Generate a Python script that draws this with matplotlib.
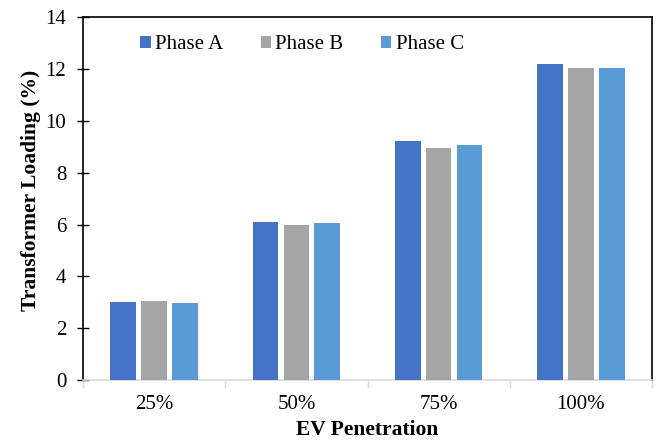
import matplotlib.pyplot as plt
import numpy as np

plt.rcParams['font.family'] = ['Liberation Serif', 'DejaVu Serif']

penetration = ['25%', '50%', '75%', '100%']
phase_a = [3.02, 6.08, 9.20, 12.20]
phase_b = [3.04, 5.98, 8.93, 12.05]
phase_c = [2.98, 6.04, 9.07, 12.03]
series = [('Phase A', phase_a, '#4472C4'),
          ('Phase B', phase_b, '#A5A5A5'),
          ('Phase C', phase_c, '#5B9BD5')]

fig = plt.figure(figsize=(6.56, 4.41), dpi=100)
ax = fig.add_axes([0.1265, 0.138, 0.8675, 0.8235])

x = np.arange(len(penetration))
w = 0.18
step = 0.217
for i, (name, vals, col) in enumerate(series):
    ax.bar(x + (i - 1) * step, vals, w, color=col, label=name, zorder=3)

ax.set_xlim(-0.5, len(penetration) - 0.5)
ax.set_ylim(0, 14)
ax.set_yticks(range(0, 15, 2))
ax.set_xticks(x)
ax.set_xticklabels(penetration)
ax.set_xticks(np.arange(-0.5, len(penetration)), minor=True)

ax.tick_params(axis='x', which='major', length=0, labelsize=15, pad=11)
ax.tick_params(axis='x', which='minor', length=6, color='#D9D9D9', width=1)
ax.tick_params(axis='y', direction='inout', length=8, width=1,
               labelsize=15, pad=8)

for side in ['left', 'top', 'right']:
    ax.spines[side].set_color('black')
    ax.spines[side].set_linewidth(1.2)
ax.spines['bottom'].set_color('#D9D9D9')
ax.spines['bottom'].set_linewidth(1.2)

ax.set_xlabel('EV Penetration', fontsize=15.5, fontweight='bold', labelpad=4)
ax.set_ylabel('Transformer Loading (%)', fontsize=15.5, fontweight='bold')
ax.yaxis.set_label_coords(-0.074, 0.523)

ax.legend(loc='upper left', bbox_to_anchor=(0.068, 1.002), ncol=3,
          frameon=False, fontsize=15, handlelength=0.5, handleheight=0.5,
          handletextpad=0.2, columnspacing=1.8)

fig.savefig('out.png', dpi=100)
